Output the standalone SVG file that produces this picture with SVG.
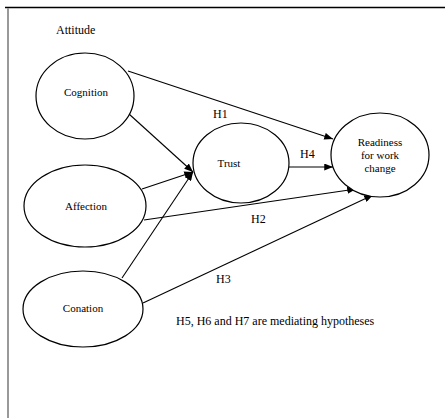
<svg xmlns="http://www.w3.org/2000/svg" width="445" height="418" viewBox="0 0 445 418">
<defs>
<marker id="arr" viewBox="0 0 10 8" refX="10" refY="4" markerWidth="9" markerHeight="7" markerUnits="userSpaceOnUse" orient="auto">
<path d="M0,0 L10,4 L0,8 Z" fill="#000"/>
</marker>
<style>
.node ellipse{fill:#fff;stroke:#000;stroke-width:1.2}
.nt{font-size:11px;fill:#000;text-anchor:middle}
.lbl{font-size:12px;fill:#000}
.edges line{stroke:#000;stroke-width:1.1;marker-end:url(#arr)}
</style>
</defs>
<rect width="445" height="418" fill="#fff"/>
<line x1="5" y1="7.5" x2="445" y2="7.5" stroke="#000" stroke-width="1.3"/>
<line x1="8" y1="8" x2="8" y2="418" stroke="#999" stroke-width="2"/>
<g font-family="Liberation Serif, Times New Roman, serif">
<text class="lbl" x="56" y="34">Attitude</text>
<g class="edges">
<line x1="128" y1="71" x2="333" y2="139"/>
<line x1="129" y1="114" x2="193" y2="172"/>
<line x1="142" y1="189" x2="193" y2="172"/>
<line x1="122" y1="278" x2="193" y2="172"/>
<line x1="289" y1="167" x2="333" y2="167"/>
<line x1="144" y1="220" x2="356" y2="189"/>
<line x1="143" y1="303" x2="373" y2="195"/>
</g>
<g id="cognition" class="node"><ellipse cx="85" cy="96" rx="49" ry="43"/><text class="nt" x="86" y="96">Cognition</text></g>
<g id="affection" class="node"><ellipse cx="85" cy="206" rx="61" ry="41"/><text class="nt" x="86" y="210">Affection</text></g>
<g id="conation" class="node"><ellipse cx="83" cy="309" rx="60" ry="38"/><text class="nt" x="83" y="312">Conation</text></g>
<g id="trust" class="node"><ellipse cx="241" cy="163" rx="48" ry="40"/><text class="nt" x="229" y="167">Trust</text></g>
<g id="readiness" class="node"><ellipse cx="380" cy="155" rx="49" ry="42"/><text class="nt" x="380" y="146">Readiness</text><text class="nt" x="380" y="159">for work</text><text class="nt" x="380" y="172">change</text></g>
<text class="lbl" x="213" y="118">H1</text>
<text class="lbl" x="300" y="158">H4</text>
<text class="lbl" x="251" y="223">H2</text>
<text class="lbl" x="216" y="283">H3</text>
<text class="lbl" x="176" y="325">H5, H6 and H7 are mediating hypotheses</text>
</g>
</svg>
